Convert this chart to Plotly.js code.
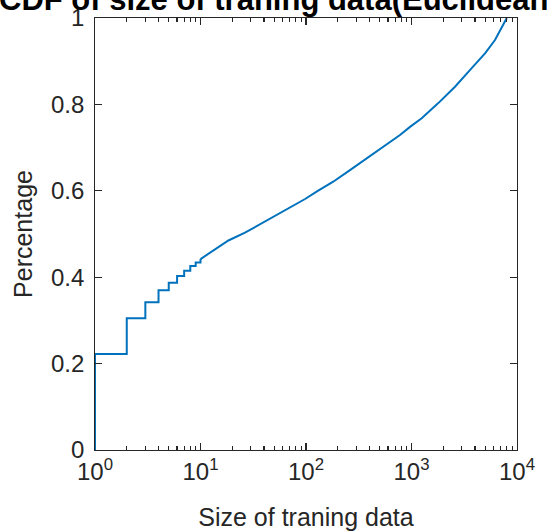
<!DOCTYPE html>
<html>
<head>
<meta charset="utf-8">
<script src="https://cdn.plot.ly/plotly-3.0.1.min.js"></script>
<style>html,body{margin:0;padding:0;background:#fff;}#chart{width:547px;height:531px;}</style>
</head>
<body>
<div id="chart"></div>
<script>
// Step part of the empirical CDF (small integer sizes)
var stepSizes = [1, 2, 3, 4, 5, 6, 7, 8, 9, 10];
var stepCdf   = [0.222, 0.305, 0.342, 0.370, 0.387, 0.403, 0.415, 0.426, 0.434, 0.442];

// Dense part of the CDF
var curveSizes = [10, 12.8, 18.4, 26.4, 38, 54.7, 78.7, 98, 126, 181, 261, 376, 541, 778, 968, 1250, 1795, 2585, 3720, 4975, 6185, 7810, 8000];
var curveCdf   = [0.442, 0.459, 0.485, 0.503, 0.525, 0.546, 0.567, 0.581, 0.598, 0.621, 0.648, 0.675, 0.702, 0.729, 0.748, 0.768, 0.803, 0.841, 0.884, 0.918, 0.949, 0.995, 1.0];

var xTickVals = [1, 10, 100, 1000, 10000];
var xTickText = ['10<sup>0</sup>', '10<sup>1</sup>', '10<sup>2</sup>', '10<sup>3</sup>', '10<sup>4</sup>'];
var yTickVals = [0, 0.2, 0.4, 0.6, 0.8, 1];
var yTickText = ['0', '0.2', '0.4', '0.6', '0.8', '1'];

var titleText = 'CDF of size of traning data(Euclidean distance)';
var xLabel = 'Size of traning data';
var yLabel = 'Percentage';

var lineColor = '#0072BD';
var axisColor = '#262626';
var fontFam = 'Liberation Sans, Arial, Helvetica, sans-serif';

// minor log ticks (2..9 in each decade)
var minorVals = [];
for (var d = 0; d < xTickVals.length - 1; d++) {
  for (var m = 2; m <= 9; m++) minorVals.push(m * xTickVals[d]);
}

var traces = [
  {
    x: [stepSizes[0]].concat(stepSizes),
    y: [0].concat(stepCdf),
    mode: 'lines', line: {color: lineColor, width: 2, shape: 'hv'},
    cliponaxis: false, hoverinfo: 'skip', showlegend: false
  },
  {
    x: curveSizes, y: curveCdf,
    mode: 'lines', line: {color: lineColor, width: 2, shape: 'linear'},
    cliponaxis: false, hoverinfo: 'skip', showlegend: false
  },
  { // carrier for the minor-tick axis (draws nothing)
    x: [xTickVals[0]], y: [yTickVals[0]], xaxis: 'x2', yaxis: 'y',
    mode: 'markers', marker: {opacity: 0, size: 1},
    hoverinfo: 'skip', showlegend: false
  }
];

var layout = {
  width: 547, height: 531,
  margin: {l: 95, r: 30, t: 18, b: 81},
  showlegend: false,
  font: {family: fontFam, color: axisColor, size: 24},
  xaxis: {
    type: 'log', range: [0, 4],
    tickmode: 'array', tickvals: xTickVals, ticktext: xTickText,
    ticks: 'inside', ticklen: 7, tickwidth: 1.3, tickcolor: axisColor,
    showline: true, linecolor: axisColor, mirror: 'ticks', showgrid: false,
    tickfont: {size: 24, color: axisColor, family: fontFam},
    title: {text: xLabel, font: {size: 25, color: axisColor, family: fontFam}, standoff: 27},
    automargin: false
  },
  xaxis2: {
    type: 'log', range: [0, 4],
    overlaying: 'x', anchor: 'y', side: 'bottom',
    tickmode: 'array', tickvals: minorVals, showticklabels: false,
    ticks: 'inside', ticklen: 4, tickwidth: 1.3, tickcolor: axisColor,
    mirror: 'ticks', showgrid: false, automargin: false
  },
  yaxis: {
    range: [0, 1],
    tickmode: 'array', tickvals: yTickVals,
    ticktext: yTickText.map(function (t) { return t + '\u2009'; }),
    ticks: 'inside', ticklen: 7, tickwidth: 1.3, tickcolor: axisColor,
    showline: true, linecolor: axisColor, mirror: 'ticks', showgrid: false, zeroline: false,
    tickfont: {size: 24, color: axisColor, family: fontFam},
    title: {text: yLabel, font: {size: 25, color: axisColor, family: fontFam}, standoff: 11},
    automargin: false
  },
  annotations: [{
    text: '<b>' + titleText + '</b>',
    xref: 'paper', yref: 'paper', x: -0.232, y: 1,
    xanchor: 'left', yanchor: 'bottom', yshift: -1,
    showarrow: false, font: {size: 31, color: '#000000', family: fontFam}
  }]
};

Plotly.newPlot('chart', traces, layout, {staticPlot: true, displayModeBar: false});
</script>
</body>
</html>
